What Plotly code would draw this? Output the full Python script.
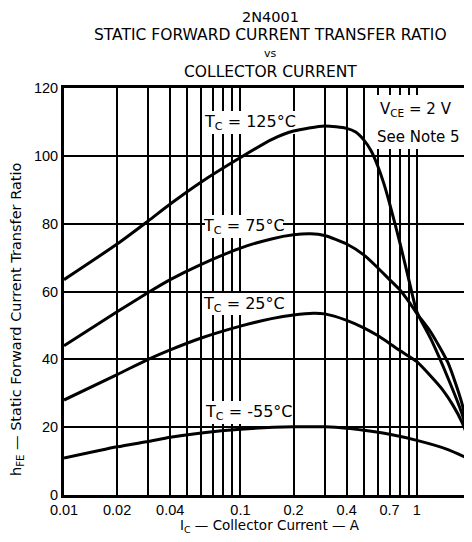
import math
import plotly.graph_objects as go

# ---- data ----
ic_125 = [0.01, 0.02, 0.03, 0.04, 0.06, 0.1, 0.15, 0.2, 0.3, 0.4, 0.45, 0.5, 0.55, 0.6, 0.65, 0.7, 0.8, 0.9, 1.0, 1.2, 1.5, 1.8, 2.0]
hfe_125 = [63.5, 74, 80.8, 85.8, 92.3, 99.5, 104.8, 107.3, 108.8, 108.1, 107, 104.7, 101.5, 97, 91.8, 86, 74.5, 63.5, 54, 46, 34.5, 24, 15.5]

ic_75 = [0.01, 0.02, 0.03, 0.04, 0.06, 0.1, 0.15, 0.2, 0.25, 0.3, 0.4, 0.5, 0.6, 0.7, 0.8, 0.9, 1.0, 1.2, 1.5, 1.8, 2.0]
hfe_75 = [44, 54, 59.7, 63.5, 68, 72.8, 75.5, 76.7, 77, 76.5, 74, 70.8, 67, 63.5, 60.5, 57, 53.5, 48, 39, 27, 15.5]

ic_25 = [0.01, 0.02, 0.03, 0.04, 0.06, 0.1, 0.15, 0.2, 0.26, 0.3, 0.4, 0.5, 0.6, 0.7, 0.8, 0.9, 1.0, 1.2, 1.4, 1.6, 1.8, 2.0]
hfe_25 = [28, 35.5, 40, 42.8, 46.3, 49.8, 52, 53.1, 53.6, 53.4, 51.5, 49.3, 47, 44.7, 42.6, 40.9, 39.3, 35, 31, 26.5, 21.5, 15.5]

ic_m55 = [0.01, 0.02, 0.03, 0.04, 0.06, 0.1, 0.2, 0.3, 0.4, 0.5, 0.7, 1.0, 1.5, 2.0]
hfe_m55 = [10.9, 14.2, 15.8, 17, 18.3, 19.4, 20.1, 20.1, 19.7, 19.1, 17.9, 16.1, 13.4, 10.5]

x_grid = [0.01, 0.02, 0.03, 0.04, 0.05, 0.06, 0.07, 0.08, 0.09,
          0.1, 0.2, 0.3, 0.4, 0.5, 0.6, 0.7, 0.8, 0.9, 1, 2]
x_labels = {0.01: "0.01", 0.02: "0.02", 0.04: "0.04", 0.1: "0.1", 0.2: "0.2",
            0.4: "0.4", 0.7: "0.7", 1: "1", 2: "2"}
y_ticks = [0, 20, 40, 60, 80, 100, 120]

FONT = "DejaVu Sans"
TICKF = "Liberation Sans"

X_RANGE = [math.log10(0.01), math.log10(2)]
Y_RANGE = [0, 120]

# page offset: the page adds an 8px margin, so figure px = page px - 8
OFF = 8
W, H = 472 - OFF, 542 - OFF
# plot area in page pixels
L, R, T, B = 64, 470, 88, 495
def dx(px):
    return (px - L) / (R - L)
def dy(py):
    return (B - py) / (B - T)
def vx(px):  # page px -> x data value (log axis)
    return 10 ** (X_RANGE[0] + dx(px) * (X_RANGE[1] - X_RANGE[0]))
def vy(py):  # page px -> y data value
    return Y_RANGE[0] + dy(py) * (Y_RANGE[1] - Y_RANGE[0])

fig = go.Figure()

# white label backgrounds: above the grid, below the curves
boxes = [(202, 299, 111, 134), (205, 283, 215, 238), (205, 283, 293, 315),
         (205, 291, 401, 424), (375, 468, 95, 149)]
bx, by = [], []
for x0, x1, y0, y1 in boxes:
    bx += [vx(x0), vx(x1), vx(x1), vx(x0), vx(x0), None]
    by += [vy(y1), vy(y1), vy(y0), vy(y0), vy(y1), None]
fig.add_trace(go.Scatter(x=bx, y=by, mode="lines", fill="toself", fillcolor="white",
                         line=dict(width=0, color="white"), showlegend=False, hoverinfo="skip"))

for xs, ys in [(ic_125, hfe_125), (ic_75, hfe_75), (ic_25, hfe_25), (ic_m55, hfe_m55)]:
    fig.add_trace(go.Scatter(x=xs, y=ys, mode="lines",
                             line=dict(color="black", width=3, shape="spline", smoothing=0.6),
                             showlegend=False, hoverinfo="skip"))

fig.update_xaxes(type="log", range=X_RANGE, automargin=False,
                 tickvals=x_grid, ticktext=[x_labels.get(v, "") for v in x_grid],
                 showgrid=True, gridcolor="black", gridwidth=2,
                 showline=True, linecolor="black", linewidth=3, mirror=True,
                 ticks="", zeroline=False,
                 tickfont=dict(family=TICKF, size=14.5, color="black"))
fig.update_yaxes(range=Y_RANGE, tickvals=y_ticks, automargin=False,
                 showgrid=True, gridcolor="black", gridwidth=2,
                 showline=True, linecolor="black", linewidth=3, mirror=True,
                 ticks="", zeroline=False,
                 tickfont=dict(family=TICKF, size=14.5, color="black"))

lab_font = dict(family=FONT, size=16, color="black")
labels = [
    ("T<sub>C</sub> = 125°C", 250, 122),
    ("T<sub>C</sub> = 75°C", 244, 226),
    ("T<sub>C</sub> = 25°C", 244, 304),
    ("T<sub>C</sub> = -55°C", 248, 412),
]
for text, px, py in labels:
    fig.add_annotation(text=text, x=dx(px), y=dy(py), xref="paper", yref="paper",
                       xanchor="center", yanchor="middle", showarrow=False, font=lab_font)
fig.add_annotation(text="V<sub>CE</sub> = 2 V", x=dx(416), y=dy(109), xref="paper", yref="paper",
                   xanchor="center", yanchor="middle", showarrow=False,
                   font=dict(family=FONT, size=15, color="black"))
fig.add_annotation(text="See Note 5", x=dx(418), y=dy(137), xref="paper", yref="paper",
                   xanchor="center", yanchor="middle", showarrow=False,
                   font=dict(family=FONT, size=15, color="black"))

for text, py, sz in [("2N4001", 17, 14.5), ("STATIC FORWARD CURRENT TRANSFER RATIO", 35, 15.5),
                     ("vs", 53, 11), ("COLLECTOR CURRENT", 72, 15.5)]:
    fig.add_annotation(text=text, x=dx(270), y=dy(py), xref="paper", yref="paper",
                       xanchor="center", yanchor="middle", showarrow=False,
                       font=dict(family=FONT, size=sz, color="black"))

fig.add_annotation(text="I<sub>C</sub> — Collector Current — A", x=dx(270), y=dy(526),
                   xref="paper", yref="paper", xanchor="center", yanchor="middle",
                   showarrow=False, font=dict(family=FONT, size=13.5, color="black"))
fig.add_annotation(text="h<sub>FE</sub> — Static Forward Current Transfer Ratio", x=dx(17), y=dy(320),
                   xref="paper", yref="paper", xanchor="center", yanchor="middle",
                   textangle=-90, showarrow=False, font=dict(family=FONT, size=14.5, color="black"))

fig.update_layout(width=W, height=H, paper_bgcolor="white", plot_bgcolor="white",
                  margin=dict(l=L - OFF, r=W - (R - OFF), t=T - OFF, b=H - (B - OFF), autoexpand=False))

fig.write_html("out.html")
